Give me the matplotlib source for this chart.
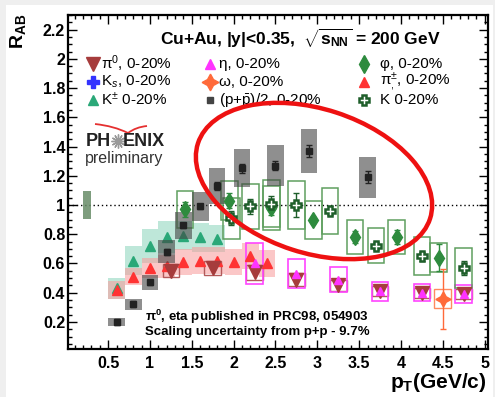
import matplotlib
matplotlib.use("Agg")
import matplotlib.pyplot as plt
from matplotlib.patches import Rectangle, Ellipse, PathPatch
from matplotlib.path import Path
from matplotlib.transforms import IdentityTransform
from matplotlib.ticker import MultipleLocator, FuncFormatter

plt.rcParams['font.family'] = ['Liberation Sans', 'DejaVu Sans']
plt.rcParams['mathtext.fontset'] = 'custom'
plt.rcParams['mathtext.rm'] = 'Liberation Sans'
plt.rcParams['mathtext.it'] = 'Liberation Sans:italic'
plt.rcParams['mathtext.bf'] = 'Liberation Sans:bold'
plt.rcParams['mathtext.sf'] = 'Liberation Sans'

# ---- data: Cu+Au 0-20% nuclear modification factors ----
# (p+pbar)/2
pt_p = [0.6, 0.8, 1.0, 1.2, 1.4, 1.6, 1.8, 2.1, 2.5, 2.9, 3.6]
raa_p = [0.20, 0.32, 0.47, 0.68, 0.86, 0.99, 1.13, 1.25, 1.27, 1.37, 1.19]
stat_p = [0.02, 0.02, 0.02, 0.02, 0.02, 0.02, 0.03, 0.03, 0.03, 0.04, 0.04]
sys_p = [0.03, 0.04, 0.05, 0.08, 0.09, 0.10, 0.12, 0.13, 0.14, 0.15, 0.14]

# charged kaons
pt_kpm = [0.6, 0.8, 1.0, 1.2, 1.4, 1.6, 1.8]
raa_kpm = [0.43, 0.62, 0.72, 0.78, 0.79, 0.78, 0.77]
sys_kpm = [0.07, 0.10, 0.115, 0.11, 0.10, 0.10, 0.09]

# charged pions
pt_pipm = [0.6, 0.8, 1.0, 1.2, 1.4, 1.6, 1.8, 2.0, 2.2, 2.4]
raa_pipm = [0.42, 0.51, 0.57, 0.58, 0.61, 0.62, 0.62, 0.61, 0.65, 0.60]
sys_pipm = [0.06, 0.06, 0.07, 0.08, 0.09, 0.09, 0.09, 0.09, 0.09, 0.09]

# neutral pions
pt_pi0 = [1.25, 1.75, 2.25, 2.75, 3.25, 3.75, 4.25, 4.75]
raa_pi0 = [0.55, 0.57, 0.54, 0.49, 0.45, 0.41, 0.40, 0.39]
sys_pi0 = [0.045, 0.05, 0.05, 0.045, 0.04, 0.035, 0.035, 0.035]

# eta
pt_eta = [2.25, 2.75, 3.25, 3.75, 4.25, 4.75]
raa_eta = [0.60, 0.53, 0.49, 0.41, 0.40, 0.39]
sys_eta = [0.14, 0.10, 0.085, 0.065, 0.06, 0.06]

# omega
pt_omega = [4.5]
raa_omega = [0.36]
stat_omega = [0.205]
sys_omega = [0.065]

# phi
pt_phi = [1.42, 1.95, 2.45, 2.95, 3.45, 3.95, 4.45]
raa_phi = [0.97, 1.03, 0.98, 0.90, 0.78, 0.78, 0.64]
stat_phi = [0.05, 0.05, 0.05, 0.02, 0.04, 0.05, 0.09]
sys_phi = [0.125, 0.135, 0.15, 0.13, 0.115, 0.115, 0.10]

# K (K0s)
pt_k0 = [1.97, 2.2, 2.45, 2.75, 3.15, 3.7, 4.25, 4.75]
raa_k0 = [0.91, 0.99, 1.01, 1.00, 0.96, 0.72, 0.65, 0.57]
stat_k0 = [0.05, 0.05, 0.05, 0.08, 0.03, 0.03, 0.03, 0.05]
sys_k0 = [0.14, 0.155, 0.16, 0.165, 0.155, 0.12, 0.13, 0.135]

# global scaling uncertainty from p+p
norm_unc = 0.097

legend_labels = [
    "\u03c0$^{0}$, 0-20%", "\u03b7, 0-20%", "\u03c6, 0-20%",
    "K$_{s}$, 0-20%", "\u03c9, 0-20%", "\u03c0$^{\\pm}_{,}$, 0-20%",
    "K$^{\\pm}$ 0-20%", "(p+$\\bar{\\rm p}$)/2, 0-20%", "K 0-20%",
]
title = "Cu+Au, |y|<0.35,  $\\sqrt{\\mathbf{s}_{\\mathbf{NN}}}$ = 200 GeV"
note_lines = ["\u03c0$^{\\mathbf{0}}$, eta published in PRC98, 054903",
              "Scaling uncertainty from p+p - 9.7%"]

# ---- styles ----
C_PI0 = '#a63c3c'
C_ETA = '#ff33ff'
C_PHI = '#2e8b3e'
C_KS = '#3333ff'
C_OMEGA = '#ff6a3a'
C_PIPM = '#ff3333'
C_KPM = '#2aa878'
C_P = '#222222'
C_K0 = '#1e5e2a'
K0_STYLE = dict(marker='P', ms=7.5, markerfacecolor='white',
                markeredgecolor=C_K0, markeredgewidth=1.8)

W, H = 495, 397
fig = plt.figure(figsize=(W / 100, H / 100), dpi=100, facecolor='#efefef')
fig.patches.append(Rectangle((6 / W, 0), (493 - 6) / W, (H - 5) / H,
                             transform=fig.transFigure, facecolor='white',
                             edgecolor='none', zorder=-10))
ax = fig.add_axes([68 / W, (H - 349) / H, 420 / W, 334 / H])
ax.patch.set_alpha(0)
ax.set_xlim(0.02, 5.04)
ax.set_ylim(0.015, 2.3)


def boxes(x, y, dy, hw, fc='none', ec='none', lw=1.0, alpha=1.0, z=2):
    for xi, yi, di in zip(x, y, dy):
        ax.add_patch(Rectangle((xi - hw, yi - di), 2 * hw, 2 * di,
                               facecolor=fc, edgecolor=ec, lw=lw,
                               alpha=alpha, zorder=z))


# unity reference line and normalisation box
ax.axhline(1.0, color='black', ls=(0, (1, 2)), lw=1.0, zorder=1)
ax.add_patch(Rectangle((0.2, 1 - norm_unc), 0.09, 2 * norm_unc,
                       facecolor='#678c67', edgecolor='none', alpha=0.85, zorder=2))

# systematic boxes
boxes(pt_kpm, raa_kpm, sys_kpm, 0.1, fc='#93d8c0', alpha=0.6, z=2)
boxes(pt_pipm, raa_pipm, sys_pipm, 0.1, fc='#f99a9a', alpha=0.55, z=2)
boxes(pt_pi0, raa_pi0, sys_pi0, 0.1, ec='#b35a5a', lw=1.0, z=3)
boxes(pt_eta, raa_eta, sys_eta, 0.1, ec='#ff44ff', lw=1.2, z=3)
boxes(pt_omega, raa_omega, sys_omega, 0.1, ec='#ff8a60', lw=1.0, z=3)
boxes(pt_phi, raa_phi, sys_phi, 0.1, ec='#5f9f5f', lw=1.1, z=3)
boxes(pt_k0, raa_k0, sys_k0, 0.1, ec='#5f9f5f', lw=1.1, z=3)

# markers
ax.plot(pt_kpm, raa_kpm, ls='none', marker='^', ms=7, color=C_KPM, zorder=4)
ax.plot(pt_pipm, raa_pipm, ls='none', marker='^', ms=7, color=C_PIPM, zorder=4)
boxes(pt_p, raa_p, sys_p, 0.1, fc='#444444', alpha=0.6, z=4.5)
ax.plot(pt_pi0, raa_pi0, ls='none', marker='v', ms=10, color=C_PI0, zorder=5)
ax.plot(pt_eta, raa_eta, ls='none', marker='^', ms=6, color=C_ETA, zorder=6)
ax.errorbar(pt_omega, raa_omega, yerr=stat_omega, fmt='none', ecolor=C_OMEGA,
            elinewidth=1, capsize=2, zorder=5)
ax.plot(pt_omega, raa_omega, ls='none', marker=(4, 1, 0), ms=11, color=C_OMEGA, zorder=6)
ax.errorbar(pt_phi, raa_phi, yerr=stat_phi, fmt='none', ecolor=C_PHI,
            elinewidth=1, capsize=2, zorder=5)
ax.plot(pt_phi, raa_phi, ls='none', marker='d', ms=8.5, color=C_PHI, zorder=6)
ax.errorbar(pt_k0, raa_k0, yerr=stat_k0, fmt='none', ecolor=C_K0,
            elinewidth=1, capsize=2, zorder=5)
ax.plot(pt_k0, raa_k0, ls='none', zorder=6, **K0_STYLE)
ax.errorbar(pt_p, raa_p, yerr=stat_p, fmt='none', ecolor=C_P,
            elinewidth=1, capsize=2, zorder=6)
ax.plot(pt_p, raa_p, ls='none', marker='s', ms=4.5, color=C_P, zorder=7)

# axes styling
for s in ax.spines.values():
    s.set_linewidth(1.6)
ax.xaxis.set_major_locator(MultipleLocator(0.5))
ax.xaxis.set_minor_locator(MultipleLocator(0.1))
ax.yaxis.set_major_locator(MultipleLocator(0.2))
ax.yaxis.set_minor_locator(MultipleLocator(0.05))
fmt = FuncFormatter(lambda v, p: ('%g' % round(v, 2)))
ax.xaxis.set_major_formatter(fmt)
ax.yaxis.set_major_formatter(fmt)
ax.tick_params(which='both', direction='in', top=True, right=True, width=1.0)
ax.tick_params(which='major', length=6.5)
ax.tick_params(which='minor', length=3.2)
ax.tick_params(axis='x', which='major', pad=5)
ax.tick_params(axis='y', which='major', pad=2)
for lab in ax.get_xticklabels() + ax.get_yticklabels():
    lab.set_fontsize(11.5)
    lab.set_fontweight('bold')

# axis titles
fig.text(18 / W, 1 - 31 / H, "R$_{\\mathbf{AB}}$", rotation=90, ha='center',
         va='center', fontsize=14, fontweight='bold')
fig.text(487 / W, 1 - 383 / H, "p$_{\\mathbf{T}}$(GeV/c)", ha='right',
         va='center', fontsize=15, fontweight='bold')

# title
fig.text(300 / W, 1 - 38 / H, title, ha='center', va='center',
         fontsize=12.5, fontweight='bold')

# legend entries (3 columns x 3 rows)
col_mx = [93, 210, 364]
col_tx = [101, 219, 380]
row_y = [64, 82, 100]
leg_styles = [
    dict(marker='v', ms=10, color=C_PI0),
    dict(marker='^', ms=7, color=C_ETA),
    dict(marker='d', ms=9, color=C_PHI),
    dict(marker='P', ms=8, color=C_KS),
    dict(marker=(4, 1, 0), ms=12, color=C_OMEGA),
    dict(marker='^', ms=7, color=C_PIPM),
    dict(marker='^', ms=7, color=C_KPM),
    dict(marker='s', ms=5, color='#444444'),
    K0_STYLE,
]
for i, (lab, st) in enumerate(zip(legend_labels, leg_styles)):
    r, c = divmod(i, 3)
    fx, fy = col_mx[c] / W, 1 - row_y[r] / H
    fig.add_artist(plt.Line2D([fx], [fy], ls='none', transform=fig.transFigure, **st))
    fig.text(col_tx[c] / W, fy, lab, ha='left', va='center', fontsize=11)

# PHENIX preliminary logo
fig.text(86 / W, 1 - 141 / H, "PH", ha='left', va='center', fontsize=13,
         fontweight='bold', color='#222222')
fig.text(123 / W, 1 - 141 / H, "ENIX", ha='left', va='center', fontsize=13,
         fontweight='bold', color='#222222')
fig.add_artist(plt.Line2D([117.5 / W], [1 - 141 / H], ls='none', marker=(12, 2, 0),
                          ms=10, color='#999999', mew=1.0, transform=fig.transFigure))
fig.text(85 / W, 1 - 158 / H, "preliminary", ha='left', va='center', fontsize=11.5,
         color='#333333')
swoosh = Path([(95, H - 124), (114, H - 126), (128, H - 133),
               (136, H - 127), (147, H - 126)],
              [Path.MOVETO, Path.CURVE3, Path.CURVE3, Path.CURVE3, Path.CURVE3])
fig.add_artist(PathPatch(swoosh, transform=IdentityTransform(), facecolor='none',
                         edgecolor='#e53030', lw=1.3))

# publication notes
fig.text(145 / W, 1 - 317 / H, note_lines[0], ha='left', va='center',
         fontsize=9.5, fontweight='bold')
fig.text(145 / W, 1 - 332 / H, note_lines[1], ha='left', va='center',
         fontsize=9.5, fontweight='bold')

# highlight ellipse
fig.add_artist(Ellipse((314, H - 181), 244, 144, angle=-18,
                       transform=IdentityTransform(), facecolor='none',
                       edgecolor='#ee1111', lw=3.2, zorder=20))

fig.savefig('out.png', dpi=100, facecolor=fig.get_facecolor())
